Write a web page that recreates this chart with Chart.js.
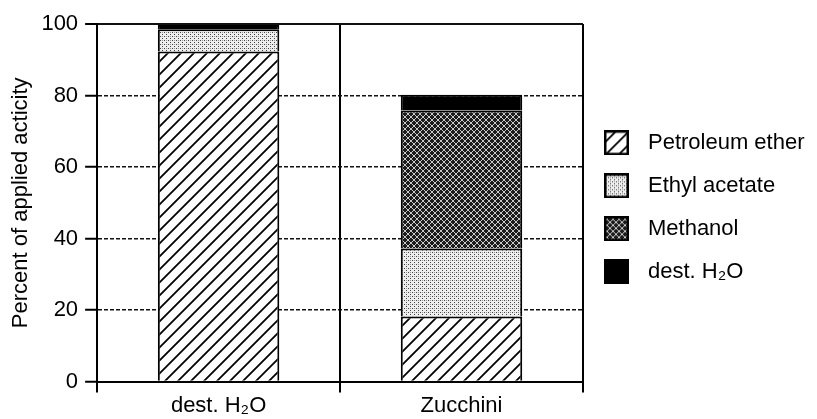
<!DOCTYPE html>
<html>
<head>
<meta charset="utf-8">
<script src="https://cdn.jsdelivr.net/npm/chart.js@4/dist/chart.umd.min.js"></script>
<style>
  html, body { margin: 0; padding: 0; background: #ffffff; }
  canvas { display: block; }
</style>
</head>
<body>
<canvas id="c" width="817" height="419"></canvas>
<script>
// Extracted fractions, percent of applied activity
const categories = ['dest. H\u2082O', 'Zucchini'];
const seriesNames = ['Petroleum ether', 'Ethyl acetate', 'Methanol', 'dest. H\u2082O'];
const petroleumEther = [92.3, 18.2];
const ethylAcetate = [6.2, 19.0];
const methanol = [0, 38.6];
const destWater = [1.2, 4.4];
const yTickValues = [0, 20, 40, 60, 80, 100];

const FONT = "'Liberation Sans', Arial, Helvetica, 'DejaVu Sans', sans-serif";
Chart.defaults.font.family = FONT;
Chart.defaults.font.size = 22;
Chart.defaults.color = '#000';

const canvas = document.getElementById('c');
const ctx = canvas.getContext('2d');

// --- fill tiles -------------------------------------------------------
function makeTile(w, h, paint) {
  const t = document.createElement('canvas');
  t.width = w; t.height = h;
  paint(t.getContext('2d'), w, h);
  return t;
}
const hatchTile = makeTile(13, 13, (g, s) => {
  g.fillStyle = '#fff'; g.fillRect(0, 0, s, s);
  g.strokeStyle = '#000'; g.lineWidth = 1.8; g.lineCap = 'square';
  g.beginPath();
  g.moveTo(-2, 2); g.lineTo(2, -2);
  g.moveTo(0, s); g.lineTo(s, 0);
  g.moveTo(s - 2, s + 2); g.lineTo(s + 2, s - 2);
  g.stroke();
});
const stippleTile = makeTile(4, 4, (g) => {
  g.fillStyle = '#eeeeee'; g.fillRect(0, 0, 4, 4);
  g.fillStyle = '#444'; g.fillRect(0, 0, 1, 1); g.fillRect(2, 2, 1, 1);
  g.fillStyle = '#9a9a9a'; g.fillRect(2, 0, 1, 1);
});
const meshTile = makeTile(6, 6, (g) => {
  g.fillStyle = '#1c1c1c'; g.fillRect(0, 0, 6, 6);
  g.fillStyle = '#c8c8c8';
  for (let i = 0; i < 6; i++) { g.fillRect(i, i, 1, 1); g.fillRect(i, 5 - i, 1, 1); }
});
const fills = [
  ctx.createPattern(hatchTile, 'repeat'),
  ctx.createPattern(stippleTile, 'repeat'),
  ctx.createPattern(meshTile, 'repeat'),
  '#000'
];
const tiles = [hatchTile, stippleTile, meshTile, null];

// legend swatches: 25px box on the left of a 33px wide image
function swatch(i) {
  return makeTile(33, 25, (g) => {
    g.fillStyle = tiles[i] ? g.createPattern(tiles[i], 'repeat') : '#000';
    g.fillRect(0, 0, 25, 25);
    g.strokeStyle = '#000'; g.lineWidth = 2.5;
    g.strokeRect(1.25, 1.25, 22.5, 22.5);
  });
}
const swatches = seriesNames.map((_, i) => swatch(i));

const values = [petroleumEther, ethylAcetate, methanol, destWater];
const datasets = seriesNames.map((name, i) => ({
  label: name,
  data: values[i],
  backgroundColor: fills[i],
  borderColor: '#000',
  borderWidth: 2,
  barPercentage: 0.5,
  categoryPercentage: 1.0
}));

new Chart(ctx, {
  type: 'bar',
  data: { labels: categories, datasets },
  options: {
    responsive: false,
    animation: false,
    devicePixelRatio: 1,
    layout: { padding: { left: 0, top: 24, right: 2.5, bottom: 0 } },
    plugins: {
      tooltip: { enabled: false },
      legend: {
        position: 'right',
        fullSize: false,
        maxWidth: 260,
        title: { display: true, text: '', font: { size: 1, lineHeight: 1 }, padding: 4 },
        labels: {
          usePointStyle: true,
          pointStyleWidth: 33,
          padding: 21,
          color: '#000',
          font: { size: 22 },
          generateLabels: (chart) => chart.data.datasets.map((ds, i) => ({
            text: ds.label,
            pointStyle: swatches[i],
            fillStyle: '#000',
            strokeStyle: '#000',
            lineWidth: 0,
            hidden: false,
            datasetIndex: i,
            fontColor: '#000'
          }))
        }
      }
    },
    scales: {
      x: {
        stacked: true,
        offset: true,
        grid: {
          offset: true,
          color: '#000',
          lineWidth: 2,
          tickLength: 11,
          tickWidth: 2,
          tickColor: '#000',
          drawOnChartArea: true
        },
        border: { display: true, color: '#000', width: 2 },
        ticks: { padding: 0, color: '#000', font: { size: 22 } }
      },
      y: {
        stacked: true,
        min: 0,
        max: 100,
        afterBuildTicks: (scale) => { scale.ticks = yTickValues.map(v => ({ value: v })); },
        grid: {
          color: '#111',
          lineWidth: (c) => (c.tick && c.tick.value === 100 ? 2 : 1.5),
          tickLength: 12,
          tickWidth: 2,
          tickColor: '#000',
          tickBorderDash: []
        },
        border: {
          display: true,
          color: '#000',
          width: 2,
          dash: (c) => (c.tick && c.tick.value === 100 ? [] : [4, 2])
        },
        ticks: { padding: 7, color: '#000', font: { size: 22 } },
        title: {
          display: true,
          text: 'Percent of applied acticity',
          color: '#000',
          font: { size: 22 },
          padding: { top: 8, bottom: 0 }
        }
      }
    }
  }
});
</script>
</body>
</html>
